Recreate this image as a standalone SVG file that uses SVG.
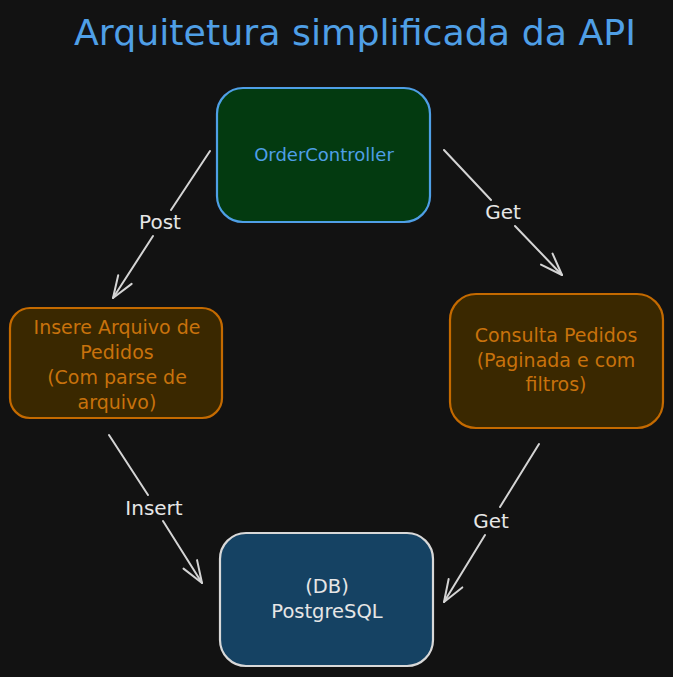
<svg xmlns="http://www.w3.org/2000/svg" width="673" height="677" viewBox="0 0 673 677">
  <style>
    .txt { font-family: "DejaVu Sans", "Liberation Sans", sans-serif; text-anchor: middle; dominant-baseline: central; }
    .box { stroke-width: 2.2; }
    .conn { fill: none; stroke: #d4d4d4; stroke-width: 2; stroke-linecap: round; }
    .lbl { fill: #e6e6e6; font-size: 20px; }
    .orange { fill: #c8720c; font-size: 19px; }
  </style>
  <defs>
    <marker id="arrow" viewBox="-24 -12 28 24" markerUnits="userSpaceOnUse" markerWidth="28" markerHeight="24" refX="0" refY="0" orient="auto" overflow="visible">
      <path d="M -22 -8 L 0 0 L -22 8" fill="none" stroke="#d4d4d4" stroke-width="2" stroke-linecap="round" stroke-linejoin="round"/>
    </marker>
  </defs>
  <rect x="0" y="0" width="673" height="677" fill="#121212"/>

  <g id="title">
    <text class="txt" x="355" y="32" font-size="36" fill="#4f9fe6" textLength="562" lengthAdjust="spacingAndGlyphs">Arquitetura simplificada da API</text>
  </g>

  <g id="connectors">
    <path class="conn" d="M210 151 L171 210 M153 236 L113 298" marker-end="url(#arrow)"/>
    <text class="txt lbl" x="160" y="222">Post</text>
    <path class="conn" d="M444 150 L491 200 M515 226 L562 275" marker-end="url(#arrow)"/>
    <text class="txt lbl" x="503" y="212">Get</text>
    <path class="conn" d="M109 435 L148 495 M163 521 L202 583" marker-end="url(#arrow)"/>
    <text class="txt lbl" x="154" y="508">Insert</text>
    <path class="conn" d="M539 444 L500 507 M485 535 L444 602" marker-end="url(#arrow)"/>
    <text class="txt lbl" x="491" y="521">Get</text>
  </g>

  <g id="order-controller">
    <rect class="box" x="217" y="88" width="213" height="134" rx="26" fill="#033a10" stroke="#4f9fe6"/>
    <text class="txt" x="324" y="154" font-size="18" fill="#4f9fe6">OrderController</text>
  </g>

  <g id="insere-arquivo">
    <rect class="box" x="10" y="308" width="212" height="110" rx="20" fill="#3a2800" stroke="#c46a00"/>
    <text class="txt orange" x="117" y="327">Insere Arquivo de</text>
    <text class="txt orange" x="117" y="352">Pedidos</text>
    <text class="txt orange" x="117" y="377">(Com parse de</text>
    <text class="txt orange" x="117" y="402">arquivo)</text>
  </g>

  <g id="consulta-pedidos">
    <rect class="box" x="450" y="294" width="213" height="134" rx="26" fill="#3a2800" stroke="#c46a00"/>
    <text class="txt orange" x="556" y="335">Consulta Pedidos</text>
    <text class="txt orange" x="556" y="360">(Paginada e com</text>
    <text class="txt orange" x="556" y="384">filtros)</text>
  </g>

  <g id="postgres">
    <rect class="box" x="220" y="533" width="213" height="133" rx="26" fill="#154263" stroke="#d8d8d8"/>
    <text class="txt" x="327" y="586" font-size="19.5" fill="#e6e6e6">(DB)</text>
    <text class="txt" x="327" y="611" font-size="19.5" fill="#e6e6e6">PostgreSQL</text>
  </g>
</svg>
